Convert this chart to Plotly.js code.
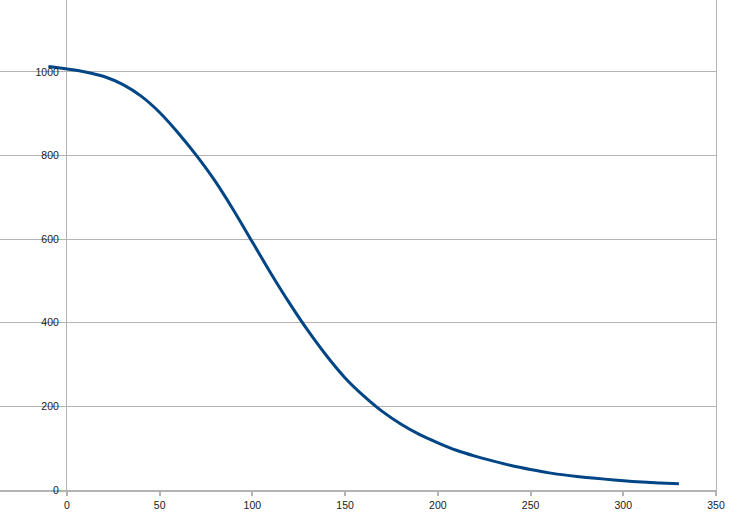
<!DOCTYPE html>
<html>
<head>
<meta charset="utf-8">
<script src="https://cdn.plot.ly/plotly-3.0.1.min.js"></script>
<style>html,body{margin:0;padding:0;background:#fff;}#chart{width:752px;height:532px;}</style>
</head>
<body>
<div id="chart"></div>
<script>
const xValues = [-10,0,10,20,30,40,50,60,70,80,90,100,110,120,130,140,150,160,170,180,190,200,210,220,230,240,250,260,270,280,290,300,310,320,330];
const yValues = [1013,1007,1000,989,970,942,903,854,799,738,668,593,518,447,381,321,268,225,188,158,133,113,95,81,69,58,49,41,35,30,26,22,19,17,15];
const xTicks = [0,50,100,150,200,250,300,350];
const yTicks = [0,200,400,600,800,1000];

const tickFont = {family: 'Liberation Sans, Arial, sans-serif', size: 10.5, color: '#1a1a1a'};

const data = [
  {x: xValues, y: yValues, type: 'scatter', mode: 'lines',
   line: {color: '#004586', width: 3, shape: 'spline', smoothing: 0.8},
   hoverinfo: 'none', showlegend: false},
  {x: [xTicks[0]], y: [yTicks[0]], yaxis: 'y2', type: 'scatter', mode: 'markers',
   marker: {opacity: 0}, hoverinfo: 'none', showlegend: false}
];

const layout = {
  width: 752, height: 532,
  margin: {l: 0, r: 36, t: 0, b: 42},
  paper_bgcolor: '#fff', plot_bgcolor: '#fff',
  showlegend: false,
  xaxis: {
    range: [-36.1, 350],
    tickvals: xTicks, ticktext: xTicks.map(String),
    showgrid: false,
    zeroline: true, zerolinecolor: '#b3b3b3', zerolinewidth: 1,
    showline: true, linecolor: '#b3b3b3', linewidth: 2,
    ticks: 'outside', ticklen: 4, tickcolor: '#b3b3b3', tickwidth: 2,
    tickfont: tickFont
  },
  yaxis: {
    range: [0, 1172],
    tickvals: yTicks, ticktext: yTicks.map(String),
    anchor: 'free', position: 67/716,
    showgrid: true, gridcolor: '#b3b3b3', gridwidth: 1,
    zeroline: false, showline: false,
    ticks: 'outside', ticklen: 6, tickcolor: 'rgba(0,0,0,0)',
    tickfont: tickFont
  },
  yaxis2: {
    range: [0, 1172], overlaying: 'y', side: 'right', anchor: 'x',
    showgrid: false, zeroline: false, showticklabels: false,
    showline: true, linecolor: '#b3b3b3', linewidth: 1
  }
};

Plotly.newPlot('chart', data, layout, {staticPlot: true, displayModeBar: false});
</script>
</body>
</html>
